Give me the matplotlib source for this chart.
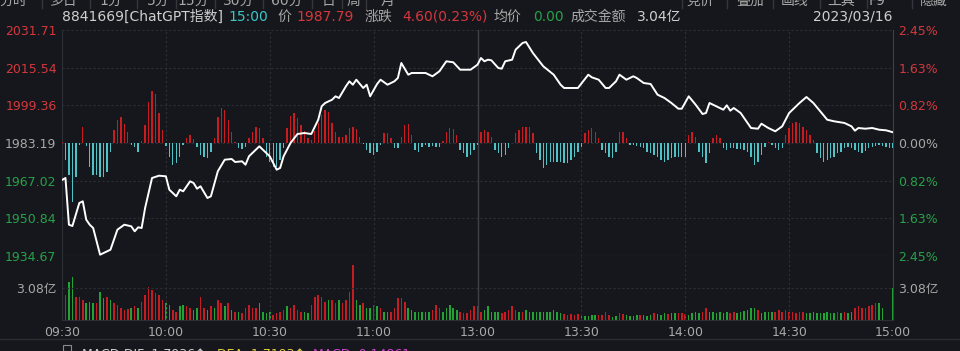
import numpy as np
import matplotlib.pyplot as plt

plt.rcParams['font.family'] = ['DejaVu Sans', 'Noto Sans CJK SC']

W, H = 960, 351
BG = '#16171c'
GRID = '#2c2f36'
FRAME = '#3e4148'
RED = '#d3383d'
GREEN = '#27a149'
GRAY = '#a8a8a8'
TXT = '#cfcfcf'

# ---- data ----
prev_close = 1983.19
price_ticks = [2031.71, 2015.54, 1999.36, 1983.19, 1967.02, 1950.84, 1934.67]
pct_labels = ['2.45%', '1.63%', '0.82%', '0.00%', '0.82%', '1.63%', '2.45%']
time_ticks = [0, 30, 60, 90, 120, 150, 180, 210, 240]
time_labels = ['09:30', '10:00', '10:30', '11:00', '13:00', '13:30', '14:00', '14:30', '15:00']
vol_tick = 3.08
vol_label = '3.08亿'

# minute index (0 = 09:30, 120 = 11:30/13:00, 240 = 15:00) and index level
line_min = [0, 1, 2, 3, 5, 6, 7, 8, 9, 11,
            13, 14, 16, 18, 20, 21, 22, 23, 24, 26,
            28, 30, 31, 33, 34, 35, 37, 38, 39, 40,
            42, 43, 45, 47, 49, 50, 52, 53, 54, 57,
            58, 60, 62, 63, 64, 66, 68, 70, 72, 74,
            75, 76, 78, 79, 80, 82, 83, 84, 85, 87,
            88, 89, 91, 92, 94, 96, 97, 98, 100, 101,
            105, 107, 109, 111, 113, 115, 118, 120, 121, 122,
            123, 124, 126, 127, 128, 130, 131, 133, 134, 136,
            139, 142, 144, 145, 149, 152, 153, 155, 157, 158,
            160, 161, 163, 165, 166, 168, 170, 172, 174, 176,
            178, 179, 181, 183, 185, 186, 187, 190, 191, 192,
            193, 194, 196, 199, 201, 202, 204, 206, 208, 210,
            213, 215, 217, 219, 221, 223, 226, 228, 229, 230,
            232, 234, 236, 238, 240]
line_px = [1967.30, 1968.17, 1948.11, 1947.55, 1957.43, 1958.16, 1950.26, 1948.11, 1946.69, 1935.23,
           1936.69, 1937.37, 1945.96, 1948.11, 1947.42, 1945.27, 1946.99, 1946.69, 1955.28, 1968.16,
           1969.15, 1968.89, 1963.14, 1960.30, 1963.14, 1962.45, 1966.74, 1966.01, 1963.57, 1964.60,
           1959.57, 1960.30, 1971.04, 1976.02, 1976.32, 1975.03, 1975.33, 1973.87, 1977.48, 1981.77,
           1980.31, 1977.48, 1971.73, 1972.46, 1977.48, 1983.19, 1987.05, 1987.48, 1987.05, 1993.19,
           1998.95, 2000.37, 2001.78, 2003.24, 2002.51, 2007.54, 2009.68, 2008.22, 2010.37, 2006.81,
           2008.22, 2003.24, 2008.52, 2010.37, 2008.22, 2009.68, 2011.10, 2017.54, 2012.52, 2013.25,
           2013.25, 2011.83, 2013.98, 2018.27, 2017.84, 2014.66, 2014.66, 2016.81, 2019.69, 2018.27,
           2018.96, 2018.70, 2015.40, 2015.09, 2018.27, 2018.96, 2023.25, 2026.13, 2026.56, 2021.84,
           2016.12, 2012.52, 2008.22, 2006.81, 2006.81, 2012.52, 2011.40, 2010.37, 2006.81, 2006.81,
           2009.68, 2012.52, 2010.37, 2011.83, 2011.10, 2008.95, 2008.52, 2003.93, 2002.51, 2000.37,
           1997.92, 1997.92, 2003.24, 1999.64, 1995.64, 1996.07, 2000.37, 1998.22, 1997.49, 1999.38,
           1997.06, 1998.22, 1996.07, 1989.63, 1989.33, 1991.48, 1989.63, 1988.21, 1990.36, 1996.07,
           2000.37, 2002.94, 2000.37, 1996.80, 1993.19, 1992.51, 1991.78, 1990.36, 1988.47, 1989.63,
           1989.33, 1989.63, 1988.90, 1988.64, 1987.79]

# red / cyan lead bars around the zero line (arbitrary units), one per minute
lead = [1, -17, -32, -59, -34, -2, 16, -3, -24, -32,
        -32, -34, -34, -29, -9, 13, 23, 26, 19, 11,
        -2, -4, -9, 2, 18, 41, 52, 49, 30, 13,
        -3, -14, -22, -20, -14, -2, 5, 8, 4, -4,
        -12, -14, -15, -9, 5, 26, 35, 33, 23, 11,
        1, -5, -6, -4, 5, 11, 16, 15, 5, -14,
        -19, -24, -24, -17, -5, 15, 27, 30, 25, 18,
        12, 5, 3, 12, 20, 28, 33, 31, 20, 11,
        6, 6, 8, 15, 16, 14, 6, -1, -7, -10,
        -12, -9, -2, 10, 10, 5, -5, -5, 6, 18,
        19, 8, -7, -9, -4, -2, -4, -3, -4, -4,
        2, 11, 15, 14, 8, -7, -10, -14, -12, -7,
        -2, 11, 13, 11, 6, -7, -10, -14, -12, -5,
        0, 10, 13, 16, 16, 16, 10, -10, -17, -25,
        -22, -19, -19, -19, -19, -20, -20, -17, -14, -9,
        -4, 10, 13, 15, 11, 5, -7, -10, -14, -15,
        -9, 11, 11, 5, -2, -2, -3, -4, -5, -9,
        -10, -12, -14, -17, -19, -17, -15, -14, -14, -14,
        -14, 8, 11, 6, -9, -14, -20, -10, 5, 8,
        5, -5, -7, -5, -5, -6, -6, -7, -9, -14,
        -22, -19, -12, -4, 1, -2, -5, -7, -5, 8,
        15, 20, 21, 20, 16, 13, 8, 3, -10, -15,
        -19, -17, -15, -14, -10, -9, -5, -4, -5, -7,
        -9, -10, -8, -5, -4, -3, -2, -3, -4, -5,
        -5]

# per-minute volume (亿) and bar colour (r = up, g = down)
volume = [6.1, 2.4, 3.7, 4.1, 2.2, 2.2, 1.9, 1.6, 1.7, 1.6,
          1.6, 2.7, 2.1, 2.2, 1.9, 1.6, 1.4, 1.2, 1.0, 1.1,
          1.2, 1.3, 1.2, 1.7, 2.4, 3.2, 2.9, 2.6, 2.4, 1.9,
          1.6, 1.4, 1.0, 0.8, 1.3, 1.4, 1.3, 1.2, 1.0, 1.2,
          2.2, 1.2, 1.0, 1.3, 1.2, 1.9, 1.6, 1.3, 1.6, 1.0,
          0.8, 0.8, 0.7, 1.2, 1.4, 1.2, 1.2, 1.6, 0.8, 0.7,
          0.8, 0.5, 0.7, 0.8, 1.0, 1.3, 1.2, 1.4, 1.0, 0.8,
          0.8, 0.7, 1.4, 2.2, 2.4, 2.2, 1.7, 1.9, 1.9, 1.6,
          1.9, 1.6, 1.9, 2.7, 5.3, 1.9, 1.4, 1.6, 1.2, 1.2,
          1.4, 1.3, 1.2, 0.8, 0.8, 0.8, 1.2, 2.1, 2.1, 1.7,
          1.2, 1.0, 0.8, 0.8, 0.8, 0.8, 0.8, 1.0, 1.4, 1.2,
          0.8, 1.2, 1.4, 1.2, 1.0, 0.8, 0.7, 0.7, 1.0, 1.3,
          1.3, 0.8, 1.0, 1.3, 0.8, 0.8, 0.8, 0.7, 0.8, 1.0,
          1.3, 1.0, 0.8, 0.8, 1.0, 0.8, 0.8, 0.8, 0.8, 0.8,
          0.8, 0.8, 1.0, 0.8, 0.7, 0.6, 0.5, 0.6, 0.5, 0.6,
          0.4, 0.4, 0.4, 0.5, 0.5, 0.5, 0.5, 0.8, 0.5, 0.3,
          0.4, 0.7, 0.6, 0.5, 0.4, 0.4, 0.5, 0.5, 0.5, 0.4,
          0.5, 0.7, 0.6, 0.5, 0.7, 0.6, 0.7, 0.7, 0.7, 0.7,
          0.6, 0.5, 0.7, 0.8, 0.7, 0.8, 1.2, 0.8, 0.8, 0.7,
          0.8, 0.7, 0.8, 0.7, 0.8, 0.7, 0.8, 0.9, 1.0, 1.2,
          1.2, 1.0, 0.7, 0.8, 0.8, 0.8, 0.8, 1.0, 0.8, 1.0,
          0.8, 0.8, 0.7, 0.8, 0.8, 0.7, 0.7, 0.8, 0.7, 0.7,
          0.7, 0.8, 0.7, 0.7, 0.8, 0.7, 0.8, 0.7, 0.8, 1.2,
          1.3, 1.2, 1.2, 1.3, 1.4, 1.6, 1.6, 1.2, 0.0, 0.0,
          3.08]
vol_dir = ("grggrrrggg" "rggrgrrrrr" "grgrrrrrrr" "ggrrggrrgg" "rrgrgrrgrg"
           "rgrrrrrggg" "grrrrgrrrr" "ggrrrrrgrr" "grrrrggrgg" "rgrggrrrrr"
           "gggggggrrr" "gggggrrrrr" "rrgggggrrr" "rrgrgggggg" "gggggrrrrr"
           "gggggrrrrg" "grrggggrg" "g" "grgggrggrr" "rggggrrggg"
           "gggrrggggg" "grggggrrrr" "rrrrrggggg" "ggggrgrggr" "rrrrrrgggg"
           "g")

header = [('8841669[ChatGPT指数]', 62, TXT), ('15:00', 228, '#3cc6c6'), ('价', 277, GRAY),
          ('1987.79', 296, RED), ('涨跌', 365, GRAY), ('4.60(0.23%)', 402, RED),
          ('均价', 494, GRAY), ('0.00', 533, GREEN), ('成交金额', 570, GRAY),
          ('3.04亿', 637, TXT)]
date_text = '2023/03/16'
menu_left = [('分时', 13), ('多日', 64), ('1分', 111), ('5分', 158), ('15分', 193),
             ('30分', 239), ('60分', 287), ('日', 329), ('周', 353), ('月', 388)]
menu_right = [('竞价', 700), ('叠加', 750), ('画线', 795), ('工具', 841), ('F9', 877), ('隐藏', 934)]

minutes = np.arange(len(lead))
lead = np.array(lead)
volume = np.array(volume)
up = np.array([c == 'r' for c in vol_dir])


def fx(px):
    return px / W


def fy(py):
    return 1 - py / H


fig = plt.figure(figsize=(W / 100, H / 100), dpi=100, facecolor=BG)
L, R = 62, 893
price_rect = [fx(L), fy(256), fx(R) - fx(L), fy(30) - fy(256)]
vol_rect = [fx(L), fy(320), fx(R) - fx(L), fy(256) - fy(320)]

# background + grid of the price panel
ax_bg = fig.add_axes(price_rect, facecolor=BG)
ax_bg.set_xlim(0, 240)
ax_bg.set_ylim(price_ticks[-1], price_ticks[0])
for p in price_ticks[:-1]:
    ax_bg.axhline(p, color=GRID, lw=0.8, ls=(0, (2, 2)))
for t in time_ticks[1:-1]:
    if t == 120:
        ax_bg.axvline(t, color=FRAME, lw=1.0)
    else:
        ax_bg.axvline(t, color=GRID, lw=0.8, ls=(0, (2, 2)))
ax_bg.set_xticks([])
ax_bg.set_yticks([])
ax_bg.spines['top'].set_visible(False)
ax_bg.spines['left'].set_color(GRID)
ax_bg.spines['right'].set_color(FRAME)
ax_bg.spines['bottom'].set_color(FRAME)

# lead bars
ax_lead = fig.add_axes(price_rect)
ax_lead.patch.set_visible(False)
ax_lead.set_xlim(0, 240)
ax_lead.set_ylim(-113, 113)
ax_lead.bar(minutes, lead, width=0.4, color=np.where(lead >= 0, '#c81c20', '#4fc2c6'), linewidth=0)
ax_lead.axis('off')

# price line
ax = fig.add_axes(price_rect)
ax.patch.set_visible(False)
ax.plot(line_min, line_px, color='white', lw=1.4, solid_joinstyle='round')
ax.set_xlim(0, 240)
ax.set_ylim(price_ticks[-1], price_ticks[0])
ax.set_xticks([])
ax.set_yticks(price_ticks)
ax.set_yticklabels([f'{p:.2f}' for p in price_ticks], fontsize=9)
tick_colors = [RED] * 3 + [GRAY] + [GREEN] * 3
for lab, c in zip(ax.get_yticklabels(), tick_colors):
    lab.set_color(c)
ax.tick_params(axis='y', length=0, pad=4)
for s in ax.spines.values():
    s.set_visible(False)

ax_pct = ax.twinx()
ax_pct.set_ylim(-2.45, 2.45)
ax_pct.set_yticks([(p - prev_close) / prev_close * 100 for p in price_ticks])
ax_pct.set_yticklabels(pct_labels, fontsize=9)
for lab, c in zip(ax_pct.get_yticklabels(), tick_colors):
    lab.set_color(c)
ax_pct.tick_params(axis='y', length=0, pad=4)
for s in ax_pct.spines.values():
    s.set_visible(False)

# volume panel
axv = fig.add_axes(vol_rect, facecolor=BG)
axv.set_xlim(0, 240)
axv.set_ylim(0, 2 * vol_tick)
axv.axhline(vol_tick, color=GRID, lw=0.8, ls=(0, (2, 2)))
for t in time_ticks[1:-1]:
    if t == 120:
        axv.axvline(t, color=FRAME, lw=1.0)
    else:
        axv.axvline(t, color=GRID, lw=0.8, ls=(0, (2, 2)))
axv.bar(minutes, volume, width=0.45, color=np.where(up, '#c41c22', '#22a334'), linewidth=0)
axv.set_xticks(time_ticks)
axv.set_xticklabels(time_labels, fontsize=9, color=GRAY)
axv.tick_params(axis='x', length=0, pad=4)
axv.set_yticks([vol_tick])
axv.set_yticklabels([vol_label], fontsize=9, color=GRAY)
axv.tick_params(axis='y', length=0, pad=4)
axv.spines['top'].set_visible(False)
axv.spines['left'].set_color(GRID)
axv.spines['right'].set_color(FRAME)
axv.spines['bottom'].set_color(GRID)
axv_r = axv.twinx()
axv_r.set_ylim(0, 2 * vol_tick)
axv_r.set_yticks([vol_tick])
axv_r.set_yticklabels([vol_label], fontsize=9, color=GRAY)
axv_r.tick_params(axis='y', length=0, pad=4)
for s in axv_r.spines.values():
    s.set_visible(False)

# header line
for txt, x, c in header:
    fig.text(fx(x), fy(17), txt, color=c, fontsize=10, ha='left', va='center')
fig.text(fx(893), fy(17), date_text, color=TXT, fontsize=10, ha='right', va='center')

# top menu strip (cut off by the image edge, as in the screenshot)
for txt, x in menu_left + menu_right:
    fig.text(fx(x), fy(1), txt, color=GRAY, fontsize=10, ha='center', va='center')
for x in [42, 90, 137, 176, 215, 263, 312, 342, 366, 682, 727, 773, 820, 867, 912]:
    fig.add_artist(plt.Line2D([fx(x), fx(x)], [fy(0), fy(8)], color='#34363c', lw=1))

# bottom indicator strip (cut off by the image edge)
fig.add_artist(plt.Line2D([0, 1], [fy(339), fy(339)], color='#2a2c32', lw=1))
fig.add_artist(plt.Rectangle((fx(63), fy(351)), fx(8), fy(345) - fy(351),
                             fill=False, edgecolor='#8a8a8a', lw=0.8))
fig.text(fx(82), fy(348), 'MACD-DIF: 1.7936↑', color=TXT, fontsize=9, ha='left', va='top')
fig.text(fx(217), fy(348), 'DEA: 1.7193↑', color='#e0d040', fontsize=9, ha='left', va='top')
fig.text(fx(313), fy(348), 'MACD: 0.14861', color='#d040d0', fontsize=9, ha='left', va='top')

fig.savefig('out.png', dpi=100, facecolor=BG)
